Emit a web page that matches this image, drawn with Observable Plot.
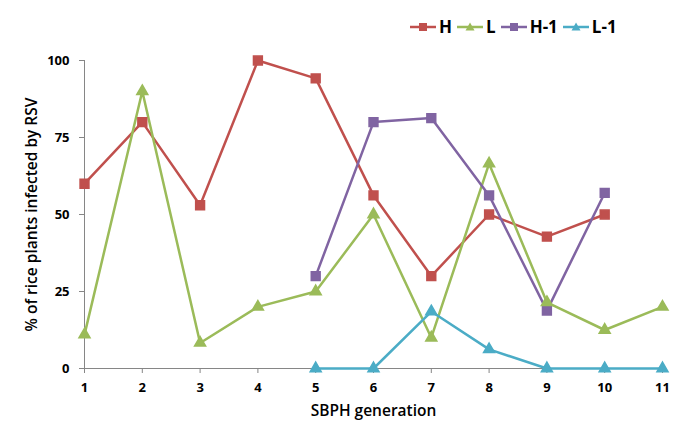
<!DOCTYPE html>
<html>
<head>
<meta charset="utf-8">
<script src="https://cdn.jsdelivr.net/npm/d3@7"></script>
<script src="https://cdn.jsdelivr.net/npm/@observablehq/plot@0.6"></script>
<style>
  body { margin: 0; background: #fff; }
  #wrap { position: relative; width: 688px; height: 443px; font-family: "Open Sans", Lato, sans-serif; }
  #legend { position: absolute; top: 15px; left: 410px; display: flex; align-items: center; font-weight: bold; font-size: 17px; color: #000; }
  #legend .item { display: flex; align-items: center; margin-right: 5px; }
  #legend svg { margin-right: 3px; }
</style>
</head>
<body>
<div id="wrap"><div id="legend"></div></div>
<script>
// Data
const xTicks = [1, 2, 3, 4, 5, 6, 7, 8, 9, 10, 11];
const yTicks = [0, 25, 50, 75, 100];

const seriesNames = ["H", "L", "H-1", "L-1"];
const seriesColors = ["#C0504D", "#9BBB59", "#8064A2", "#4BACC6"];
const seriesSymbols = ["square", "triangle", "square", "triangle"];

const H_x = [1, 2, 3, 4, 5, 6, 7, 8, 9, 10];
const H_y = [60, 80, 53, 100, 94.2, 56.2, 30, 50, 42.8, 50];

const L_x = [1, 2, 3, 4, 5, 6, 7, 8, 9, 10, 11];
const L_y = [11, 90, 8.3, 20, 25, 50, 10, 66.5, 21.5, 12.5, 20];

const H1_x = [5, 6, 7, 8, 9, 10];
const H1_y = [30, 80, 81.3, 56.2, 18.8, 57];

const L1_x = [5, 6, 7, 8, 9, 10, 11];
const L1_y = [0, 0, 18.5, 6.2, 0, 0, 0];

const xs = [H_x, L_x, H1_x, L1_x];
const ys = [H_y, L_y, H1_y, L1_y];

const rows = [];
seriesNames.forEach((name, i) => {
  xs[i].forEach((x, j) => rows.push({series: name, x, y: ys[i][j], symbol: seriesSymbols[i]}));
});

const colorScale = {domain: seriesNames, range: seriesColors};
const squares = rows.filter(d => d.symbol === "square");
const triangles = rows.filter(d => d.symbol === "triangle");

const axisGray = "#868686";
const font = "'Open Sans', Lato, sans-serif";

const chart = Plot.plot({
  width: 688,
  height: 443,
  marginLeft: 84,
  marginRight: 26,
  marginTop: 60,
  marginBottom: 75,
  style: {fontFamily: font, background: "transparent", color: "#000"},
  x: {domain: [1, 11], ticks: xTicks},
  y: {domain: [0, 100], ticks: yTicks},
  color: colorScale,
  marks: [
    Plot.ruleY([0], {stroke: axisGray, strokeWidth: 1}),
    Plot.ruleX([1], {stroke: axisGray, strokeWidth: 1}),
    Plot.axisX({ticks: xTicks, tickSize: 5, tickPadding: 9, stroke: axisGray, fill: "#000", fontSize: 13, fontWeight: "bold", label: null, tickFormat: d => String(d)}),
    Plot.axisY({ticks: yTicks, tickSize: 5, tickPadding: 10, stroke: axisGray, fill: "#000", fontSize: 13, fontWeight: "bold", label: null}),
    Plot.line(rows, {x: "x", y: "y", z: "series", stroke: "series", strokeWidth: 2.5}),
    Plot.dot(squares, {x: "x", y: "y", fill: "series", stroke: "series", symbol: "square", r: 5}),
    Plot.dot(triangles, {x: "x", y: "y", fill: "series", stroke: "series", symbol: "triangle", r: 4.1}),
    Plot.text(["SBPH generation"], {frameAnchor: "bottom", dy: 47, fontSize: 15.5, fontWeight: 600, fill: "#000", text: d => d}),
    Plot.text(["% of rice plants infected by RSV"], {frameAnchor: "left", textAnchor: "middle", dx: -52, dy: 0, rotate: -90, fontSize: 15.5, fontWeight: 600, fill: "#000", text: d => d})
  ]
});
document.getElementById("wrap").prepend(chart);

// Legend
const legend = document.getElementById("legend");
seriesNames.forEach((name, i) => {
  const item = document.createElement("div");
  item.className = "item";
  const sym = seriesSymbols[i] === "square"
    ? `<rect x="9" y="2" width="8" height="8" fill="${seriesColors[i]}"/>`
    : `<path d="M13,1.5 L17.5,9.5 L8.5,9.5 Z" fill="${seriesColors[i]}"/>`;
  item.innerHTML = `<svg width="26" height="12"><line x1="0" x2="26" y1="6" y2="6" stroke="${seriesColors[i]}" stroke-width="2.5"/>${sym}</svg><span>${name}</span>`;
  legend.appendChild(item);
});
</script>
</body>
</html>
